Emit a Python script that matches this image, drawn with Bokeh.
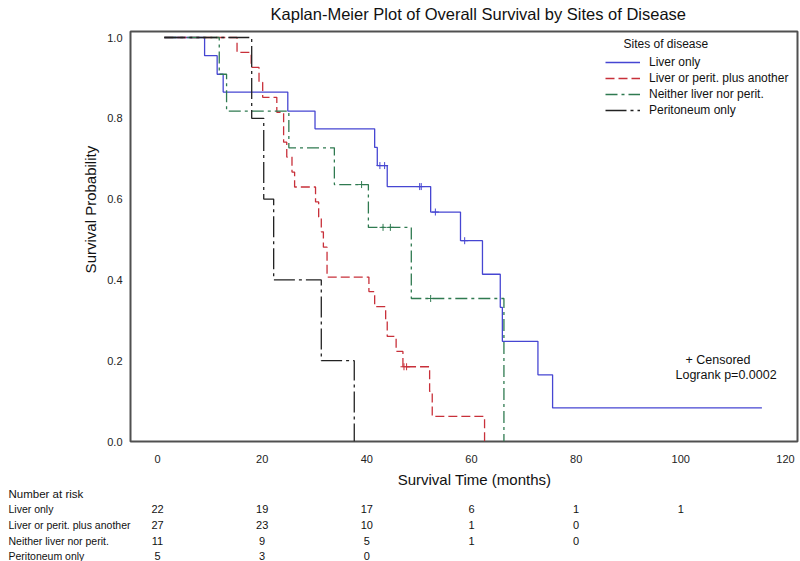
from bokeh.plotting import figure
from bokeh.layouts import column, row
from bokeh.models import (Range1d, FixedTicker, Label, Legend, LegendItem,
                          ColumnDataSource, LabelSet, NumeralTickFormatter)
from bokeh.embed import file_html
from bokeh.resources import INLINE
from bokeh.core.properties import value

# ---------------- data ----------------
groups = ["Liver only", "Liver or perit. plus another",
          "Neither liver nor perit.", "Peritoneum only"]

liver_t = [1.3, 9.0, 11.4, 12.55, 24.9, 30.1, 41.5, 42.0, 43.9, 52.2, 57.9,
           62.1, 65.5, 65.9, 72.7, 75.5, 115.5]
liver_s = [1.0, 0.955, 0.909, 0.865, 0.818, 0.774, 0.728, 0.683, 0.631, 0.568,
           0.497, 0.414, 0.332, 0.248, 0.165, 0.083, 0.083]
liver_cens_t = [42.5, 43.4, 50.1, 50.4, 53.1, 58.7]
liver_cens_s = [0.683, 0.683, 0.631, 0.631, 0.568, 0.497]

plus_t = [1.3, 15.2, 17.9, 19.4, 20.1, 22.8, 24.1, 24.7, 25.7, 26.2, 30.2,
          30.8, 31.3, 31.7, 32.4, 40.4, 41.5, 43.6, 43.9, 45.6, 46.9, 52.0,
          52.5, 62.5]
plus_s = [1.0, 0.963, 0.926, 0.889, 0.852, 0.815, 0.741, 0.704, 0.667, 0.630,
          0.593, 0.556, 0.519, 0.481, 0.407, 0.371, 0.334, 0.297, 0.260, 0.223,
          0.185, 0.124, 0.062, 0.0]
plus_cens_t = [47.1, 47.6]
plus_cens_s = [0.185, 0.185]

neither_t = [1.3, 11.8, 13.2, 25.1, 33.8, 40.3, 48.5, 66.2]
neither_s = [1.0, 0.909, 0.818, 0.727, 0.636, 0.530, 0.354, 0.0]
neither_cens_t = [39.0, 43.1, 44.5, 52.2]
neither_cens_s = [0.636, 0.530, 0.530, 0.354]

perit_t = [1.3, 18.0, 20.3, 22.2, 31.3, 37.6]
perit_s = [1.0, 0.8, 0.6, 0.4, 0.2, 0.0]

risk_times = [0, 20, 40, 60, 80, 100]
risk_liver = [22, 19, 17, 6, 1, 1]
risk_plus = [27, 23, 10, 1, 0]
risk_neither = [11, 9, 5, 1, 0]
risk_perit = [5, 3, 0]

x_ticks = [0, 20, 40, 60, 80, 100, 120]
y_ticks = [0.0, 0.2, 0.4, 0.6, 0.8, 1.0]

# ---------------- layout constants ----------------
SANS = "Liberation Sans"
X0 = 157.0          # page px of month 0
PXM = 5.233         # px per month


def m(px):
    return (px - X0) / PXM


colors = ["#4646d2", "#c8303a", "#2f7a50", "#222222"]
dashes = ["solid", "9 4", "12 4 3 4", "21 4 3 4"]


def blank(w, h, xr, yr):
    f = figure(width=w, height=h, output_backend="svg", toolbar_location=None,
               x_range=xr, y_range=yr, x_axis_type=None, y_axis_type=None,
               min_border=0)
    f.min_border_left = f.min_border_right = 0
    f.min_border_top = f.min_border_bottom = 0
    f.outline_line_color = None
    f.grid.visible = False
    f.background_fill_color = "white"
    f.border_fill_color = "white"
    return f


def lab(f, x, y, text, size="12px", align="left", angle=0.0):
    f.add_layout(Label(x=x, y=y, text=text, text_font=SANS,
                       text_font_size=size, text_align=align,
                       text_baseline="middle", angle=angle,
                       text_color="#111111"))


# ---------------- title strip ----------------
top = blank(800, 28, Range1d(m(0), m(800)), Range1d(28, 0))
lab(top, 61.3, 13, "Kaplan-Meier Plot of Overall Survival by Sites of Disease",
    size="16.5px", align="center")

# ---------------- y label strip ----------------
left = blank(100, 442, Range1d(0, 100), Range1d(470, 28))
lab(left, 90, 220, "Survival Probability", size="15px", align="center",
    angle=1.5708)

# ---------------- main plot ----------------
p = figure(width=700, height=442, output_backend="svg", toolbar_location=None,
           x_range=Range1d(m(130), m(797)), y_range=Range1d(0, 410 / 404),
           min_border_left=30, min_border_right=3, min_border_top=3,
           min_border_bottom=29)
p.background_fill_color = "white"
p.border_fill_color = "white"
p.grid.visible = False
p.outline_line_color = "#505050"
p.outline_line_width = 2

p.xaxis.ticker = FixedTicker(ticks=x_ticks)
p.yaxis.ticker = FixedTicker(ticks=y_ticks)
p.yaxis.formatter = NumeralTickFormatter(format="0.0")
for ax in (p.xaxis[0], p.yaxis[0]):
    ax.axis_line_color = None
    ax.major_tick_line_color = None
    ax.minor_tick_line_color = None
    ax.major_tick_out = 0
    ax.major_tick_in = 0
    ax.major_label_text_font = SANS
    ax.major_label_text_font_size = "11px"
    ax.major_label_text_color = "#222222"
p.xaxis.major_label_standoff = 13
p.yaxis.major_label_standoff = 8

series = [(liver_t, liver_s, liver_cens_t, liver_cens_s),
          (plus_t, plus_s, plus_cens_t, plus_cens_s),
          (neither_t, neither_s, neither_cens_t, neither_cens_s),
          (perit_t, perit_s, [], [])]

items = []
for name, (t, s, ct, cs), c, d in zip(groups, series, colors, dashes):
    r = p.step(x=t, y=s, mode="after", line_color=c, line_width=1.3,
               line_dash=d)
    if ct:
        p.scatter(x=ct, y=cs, marker="cross", size=7, line_color=c,
                  line_width=1)
    items.append(LegendItem(label=name, renderers=[r]))

legend = Legend(items=items, location=(475, 323), padding=0, spacing=0,
                margin=0, glyph_width=35, glyph_height=16, label_height=16,
                label_standoff=9, label_text_font=SANS,
                label_text_font_size="12px", label_text_color="#111111",
                border_line_color=None, background_fill_alpha=0)
p.add_layout(legend)

lab(p, m(623), (441 - 43) / 404, "Sites of disease", size="12px")
lab(p, m(685), (441 - 359) / 404, "+ Censored", size="12.5px")
lab(p, m(675), (441 - 374) / 404, "Logrank p=0.0002", size="12.5px")

# ---------------- bottom strip: x label + number at risk ----------------
bot = blank(800, 91, Range1d(m(0), m(800)), Range1d(561, 470))
lab(bot, m(474), 479, "Survival Time (months)", size="15px", align="center")
lab(bot, m(8), 493, "Number at risk", size="11.5px")
row_y = [508, 524, 540, 555]
for name, counts, ry in zip(groups,
                            [risk_liver, risk_plus, risk_neither, risk_perit],
                            row_y):
    lab(bot, m(8), ry, name, size="10.5px")
    src = ColumnDataSource(dict(x=risk_times[:len(counts)],
                                y=[ry] * len(counts),
                                t=[str(v) for v in counts]))
    bot.add_layout(LabelSet(x="x", y="y", text="t", source=src,
                            text_font=value(SANS), text_font_size="11px",
                            text_align="center", text_baseline="middle",
                            text_color="#111111"))

layout = column(top, row(left, p), bot)
open("out.html", "w").write(file_html(layout, INLINE))
